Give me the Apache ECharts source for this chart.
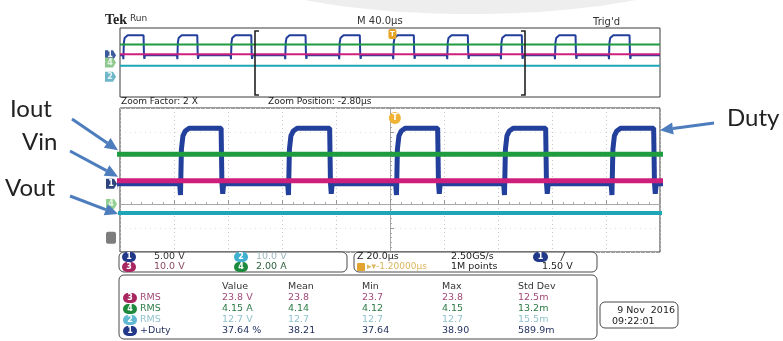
<!DOCTYPE html>
<html>
<head>
<meta charset="utf-8">
<script src="https://cdn.jsdelivr.net/npm/echarts/dist/echarts.min.js"></script>
<style>
  html, body { margin: 0; padding: 0; background: #fff; }
  #c { width: 783px; height: 341px; }
</style>
</head>
<body>
<div id="c"></div>
<script>
// ---- acquisition data (time in µs relative to screen centre) ----
const riseTimes = [-197.5, -157.5, -117.8, -77.6, -37.6, 2.4, 42.4, 82.2, 122.2, 162.2];
const fallTimes = [-182.4, -142.6, -102.6, -62.4, -22.2, 17.8, 57.8, 97.8, 137.6, 177.6];
// edge shape of the duty signal: [dt µs, fraction of swing]
const riseShape = [[-0.3, 0], [0, -0.2], [0.35, 0.62], [0.9, 0.86], [1.8, 0.95], [3.2, 1]];
const fallShape = [[-0.15, 1], [0.15, 0.02], [0.45, -0.18], [0.8, 0]];

// vertical settings per channel: units per division, ground offset (div)
const chScale  = { 1: 5, 2: 10, 3: 10, 4: 2 };
const chOffset = { 1: 0.84, 2: -1.65, 3: -1.41, 4: 0 };

// signal levels
const dutyLow = 0;      // V
const dutyHigh = 11.6;  // V
const rmsVin = 23.8;    // V  (ch3)
const rmsIout = 4.15;   // A  (ch4)
const rmsVout = 12.7;   // V  (ch2)
const triggerTime = 1.8;
const zoomWindow = [-100, 100];

// measurement table
const measHeaders = ['Value', 'Mean', 'Min', 'Max', 'Std Dev'];
const measChannel = ['3', '4', '2', '1'];
const measName    = ['RMS', 'RMS', 'RMS', '+Duty'];
const measValue   = ['23.8 V', '4.15 A', '12.7 V', '37.64 %'];
const measMean    = ['23.8', '4.14', '12.7', '38.21'];
const measMin     = ['23.7', '4.12', '12.7', '37.64'];
const measMax     = ['23.8', '4.15', '12.7', '38.90'];
const measStd     = ['12.5m', '13.2m', '15.5m', '589.9m'];

// ---- colours ----
const C1 = '#233f9c', C2 = '#1fa6b6', C3 = '#cf1f7c', C4 = '#1f9b40';
const UI = '"DejaVu Sans", "Liberation Sans", sans-serif';
const ANNO = 'Lato, "Open Sans", sans-serif';
const ARROW = '#4d7dbd';

const lvl = (ch, v) => chOffset[ch] + v / chScale[ch];

function pulseTrain(low, high) {
  const pts = [[-200, low]];
  for (let i = 0; i < riseTimes.length; i++) {
    riseShape.forEach(([dt, f]) => pts.push([riseTimes[i] + dt, low + f * (high - low)]));
    fallShape.forEach(([dt, f]) => pts.push([fallTimes[i] + dt, low + f * (high - low)]));
  }
  pts.push([200, low]);
  return pts;
}
const flat = y => [[-200, y], [200, y]];

const ch1Data = pulseTrain(lvl(1, dutyLow), lvl(1, dutyHigh));
const ch4Data = flat(lvl(4, rmsIout));
const ch3Data = flat(lvl(3, rmsVin));
const ch2Data = flat(lvl(2, rmsVout));

function traces(gi, widths) {
  const base = { type: 'line', xAxisIndex: gi, yAxisIndex: gi, symbol: 'none', showSymbol: false,
                 silent: true, animation: false, clip: true };
  return [
    Object.assign({}, base, { data: ch1Data, lineStyle: { color: C1, width: widths[0] } }),
    Object.assign({}, base, { data: ch4Data, lineStyle: { color: C4, width: widths[1] } }),
    Object.assign({}, base, { data: ch3Data, lineStyle: { color: C3, width: widths[2] } }),
    Object.assign({}, base, { data: ch2Data, lineStyle: { color: C2, width: widths[3] } })
  ];
}

const chart = echarts.init(document.getElementById('c'));
chart.setOption({
  animation: false,
  backgroundColor: '#fff',
  grid: [
    { left: 120, top: 28, width: 540, height: 69, show: true, borderColor: '#3a3a3a', borderWidth: 1 },
    { left: 120, top: 108, width: 540, height: 144, show: true, borderColor: '#3a3a3a', borderWidth: 1 }
  ],
  xAxis: [
    { gridIndex: 0, type: 'value', min: -200, max: 200, show: false },
    { gridIndex: 1, type: 'value', min: -100, max: 100, interval: 20,
      axisLine: { show: true, onZero: true, lineStyle: { color: '#a8a8a8', width: 1 } },
      axisTick: { show: true, inside: true, length: 4, lineStyle: { color: '#999' } },
      minorTick: { show: true, splitNumber: 5, length: 2, lineStyle: { color: '#aaa' } },
      axisLabel: { show: false },
      splitLine: { show: true, lineStyle: { color: '#c4c4c4', type: [1, 3], width: 1 } } }
  ],
  yAxis: [
    { gridIndex: 0, type: 'value', min: -4, max: 4, show: false },
    { gridIndex: 1, type: 'value', min: -2, max: 4, interval: 1,
      axisLine: { show: true, onZero: true, lineStyle: { color: '#a8a8a8', width: 1 } },
      axisTick: { show: true, inside: true, length: 4, lineStyle: { color: '#999' } },
      minorTick: { show: true, splitNumber: 5, length: 2, lineStyle: { color: '#aaa' } },
      axisLabel: { show: false },
      splitLine: { show: true, lineStyle: { color: '#e0e0e0', type: [1, 4], width: 1 } } }
  ],
  series: traces(0, [2, 2, 2, 2]).concat(traces(1, [5, 5, 5, 4]))
});

// ---- helpers for decorations ----
function txt(x, y, s, font, fill, align) {
  return { type: 'text', x: x, y: y, z: 40, silent: true,
    style: { text: s, font: font, fill: fill, align: align || 'left', verticalAlign: 'middle',
             textAlign: align || 'left', textVerticalAlign: 'middle' } };
}
function badge(x, y, label, color, w) {
  w = w || 14;
  return [
    { type: 'rect', z: 30, silent: true, shape: { x: x, y: y - 5, width: w, height: 10, r: 5 }, style: { fill: color } },
    txt(x + w / 2, y, label, 'bold 8px ' + UI, '#fff', 'center')
  ];
}
function marker(x, y, label, fill, textFill) {
  return [
    { type: 'polygon', z: 30, silent: true,
      shape: { points: [[x, y - 5], [x + 8, y - 5], [x + 11, y], [x + 8, y + 5], [x, y + 5]] }, style: { fill: fill } },
    txt(x + 5, y, label, 'bold 8px ' + UI, textFill, 'center')
  ];
}
function arrow(x1, y1, x2, y2) {
  const a = Math.atan2(y2 - y1, x2 - x1), L = 13, W = 6;
  const bx = x2 - L * Math.cos(a), by = y2 - L * Math.sin(a);
  const nx = -Math.sin(a) * W, ny = Math.cos(a) * W;
  return [
    { type: 'line', z: 30, silent: true, shape: { x1: x1, y1: y1, x2: bx, y2: by },
      style: { stroke: ARROW, lineWidth: 3 } },
    { type: 'polygon', z: 30, silent: true, shape: { points: [[x2, y2], [bx + nx, by + ny], [bx - nx, by - ny]] },
      style: { fill: ARROW } }
  ];
}
function box(x, y, w, h) {
  return { type: 'rect', z: 15, silent: true, shape: { x: x, y: y, width: w, height: h, r: 5 },
    style: { fill: '#fff', stroke: '#4a4a4a', lineWidth: 1 } };
}

const px0 = (x, y) => chart.convertToPixel({ gridIndex: 0 }, [x, y]);
const px1 = (x, y) => chart.convertToPixel({ gridIndex: 1 }, [x, y]);

const g = [];
const add = items => items.forEach(e => g.push(e));

// soft grey arc along the top edge
g.push({ type: 'ellipse', z: 0, silent: true, shape: { cx: 470, cy: -48, rx: 262, ry: 62 },
  style: { fill: '#eeeeee' } });

// header
g.push(txt(105, 20, 'Tek', 'bold 14px "Liberation Serif", serif', '#222'));
g.push(txt(130, 19, 'Run', '9px ' + UI, '#333'));
g.push(txt(357, 21, 'M 40.0µs', '10px ' + UI, '#333'));
g.push(txt(593, 22, "Trig'd", '10px ' + UI, '#333'));

// zoom-window bracket in the overview
const bl = px0(zoomWindow[0], 0)[0], br = px0(zoomWindow[1], 0)[0];
g.push({ type: 'polyline', z: 12, silent: true, shape: { points: [[bl + 4, 31], [bl, 31], [bl, 95], [bl + 4, 95]] },
  style: { stroke: '#222', lineWidth: 1.6, fill: null } });
g.push({ type: 'polyline', z: 12, silent: true, shape: { points: [[br - 4, 31], [br, 31], [br, 95], [br - 4, 95]] },
  style: { stroke: '#222', lineWidth: 1.6, fill: null } });

// trigger markers
const tx0 = px0(triggerTime, 0)[0], tx1 = px1(triggerTime, 0)[0];
g.push({ type: 'rect', z: 22, silent: true, shape: { x: tx0 - 4, y: 29, width: 8, height: 10, r: 2 }, style: { fill: '#e8a426' } });
g.push({ type: 'circle', z: 22, silent: true, shape: { cx: tx1, cy: 118, r: 6 }, style: { fill: '#f0b234' } });
g.push(txt(tx0, 34, 'T', 'bold 7px ' + UI, '#fff', 'center'));
g.push(txt(tx1, 118, 'T', 'bold 8px ' + UI, '#fff', 'center'));

// zoom labels
g.push(txt(121, 102, 'Zoom Factor: 2 X', '9px ' + UI, '#222'));
g.push(txt(268, 102, 'Zoom Position: -2.80µs', '9px ' + UI, '#222'));

// channel ground markers
add(marker(105, px0(0, chOffset[1])[1], '1', '#3d5a9c', '#fff'));
add(marker(105, px0(0, chOffset[4])[1], '4', '#8fc98f', '#e8f6e8'));
add(marker(105, px0(0, chOffset[2])[1], '2', '#6fb7c8', '#e6f5f8'));
add(marker(106, px1(0, chOffset[1])[1], '1', '#2e447f', '#fff'));
add(marker(106, px1(0, chOffset[4])[1], '4', '#8fcf8f', '#e8f6e8'));
g.push({ type: 'rect', z: 20, silent: true,
  shape: { x: 106, y: px1(0, chOffset[3])[1] - 6, width: 10, height: 12, r: 2 }, style: { fill: '#7d7d7d' } });

// annotations
g.push(txt(10, 109, 'Iout', '24px ' + ANNO, '#222'));
g.push(txt(22, 142, 'Vin', '24px ' + ANNO, '#222'));
g.push(txt(5, 188, 'Vout', '24px ' + ANNO, '#222'));
g.push(txt(727, 118, 'Duty', '24px ' + ANNO, '#222'));
add(arrow(72, 119, 118, px1(0, lvl(4, rmsIout))[1] - 4));
add(arrow(70, 151, 118, px1(0, lvl(3, rmsVin))[1] - 4));
add(arrow(70, 196, 118, px1(0, lvl(2, rmsVout))[1] + 1));
add(arrow(714, 123, 660, px1(0, lvl(1, dutyHigh))[1] + 2));

// readout boxes
g.push(box(119, 252, 228, 20));
g.push(box(354, 252, 243, 20));
g.push(box(119, 275, 478, 64));
g.push(box(600, 302, 78, 26));

// vertical scale readout
add(badge(122, 257, '1', '#22398a'));
g.push(txt(154, 257, '5.00 V', '9.5px ' + UI, '#333'));
add(badge(122, 267, '3', '#a8265f'));
g.push(txt(154, 267, '10.0 V', '9.5px ' + UI, '#8a4a62'));
add(badge(234, 257, '2', '#3fb0cf'));
g.push(txt(256, 257, '10.0 V', '9.5px ' + UI, '#9db6bd'));
add(badge(234, 267, '4', '#1e8a3e'));
g.push(txt(256, 267, '2.00 A', '9.5px ' + UI, '#2b5e3a'));

// timebase readout
g.push(txt(357, 257, 'Z 20.0µs', '9.5px ' + UI, '#222'));
g.push({ type: 'rect', z: 30, silent: true, shape: { x: 357, y: 263, width: 8, height: 8, r: 1 }, style: { fill: '#e2a42e' } });
g.push(txt(367, 267, '▸▾-1.20000µs', '9px ' + UI, '#dcb65e'));
g.push(txt(451, 257, '2.50GS/s', '9.5px ' + UI, '#222'));
g.push(txt(451, 267, '1M points', '9.5px ' + UI, '#222'));
add(badge(533, 257, '1', '#22398a', 15));
g.push(txt(561, 257, '/', 'italic 10px ' + UI, '#222'));
g.push(txt(542, 267, '1.50 V', '9.5px ' + UI, '#222'));

// measurement table
const colX = [222, 288, 362, 442, 518];
measHeaders.forEach((h, i) => g.push(txt(colX[i], 287, h, '9.5px ' + UI, '#333')));
const rowY = [298, 309, 320, 331];
const rowBadge = { '3': '#a8265f', '4': '#1e8a3e', '2': '#62b9d2', '1': '#22398a' };
const rowText  = { '3': '#a24a78', '4': '#2c7a46', '2': '#8fc3cc', '1': '#1f2d5c' };
measChannel.forEach((ch, r) => {
  const y = rowY[r], col = rowText[ch];
  add(badge(123, y, ch, rowBadge[ch]));
  g.push(txt(140, y, measName[r], '9.5px ' + UI, col));
  [measValue, measMean, measMin, measMax, measStd].forEach((arr, c) => g.push(txt(colX[c], y, arr[r], '9.5px ' + UI, col)));
});

// date / time
g.push(txt(675, 311, '9 Nov  2016', '9.5px ' + UI, '#222', 'right'));
g.push(txt(612, 322, '09:22:01', '9.5px ' + UI, '#222'));

chart.setOption({ graphic: { elements: g } });
</script>
</body>
</html>
